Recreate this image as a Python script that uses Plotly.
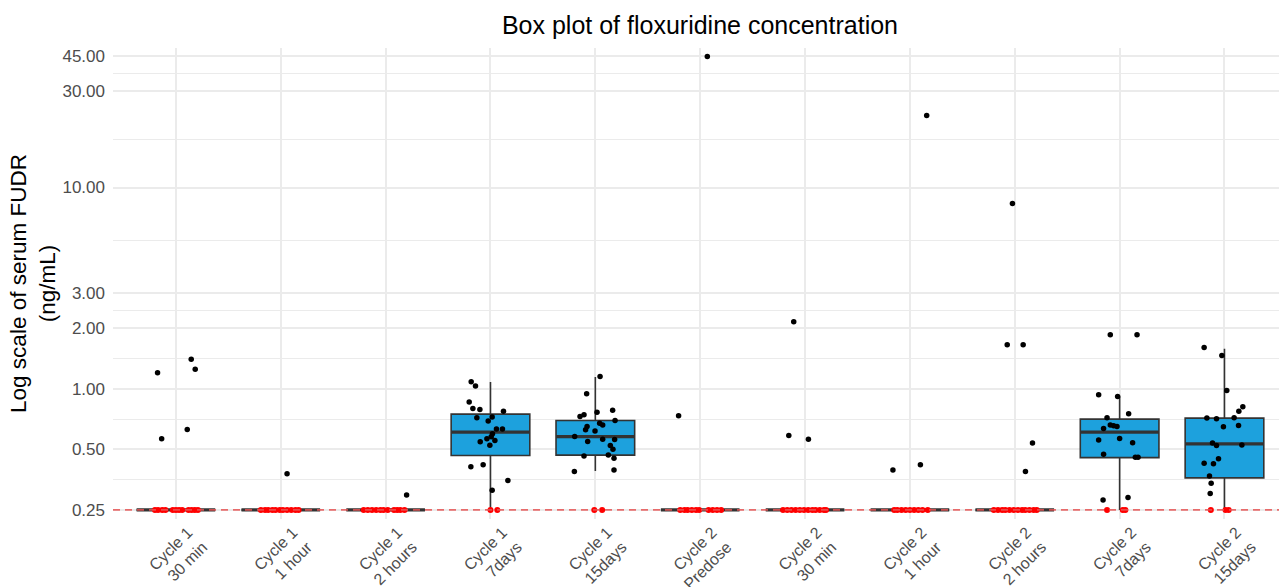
import math
import plotly.graph_objects as go

# ---------------- data ----------------
categories = ["Cycle 1<br>30 min", "Cycle 1<br>1 hour", "Cycle 1<br>2 hours",
              "Cycle 1<br>7days", "Cycle 1<br>15days", "Cycle 2<br>Predose",
              "Cycle 2<br>30 min", "Cycle 2<br>1 hour", "Cycle 2<br>2 hours",
              "Cycle 2<br>7days", "Cycle 2<br>15days"]

LLOQ = 0.25  # lower limit of quantification (ng/mL)

# box statistics (ng/mL)
box_q1     = [0.25, 0.25, 0.25, 0.466, 0.468, 0.25, 0.25, 0.25, 0.25, 0.455, 0.361]
box_median = [0.25, 0.25, 0.25, 0.609, 0.579, 0.25, 0.25, 0.25, 0.25, 0.609, 0.532]
box_q3     = [0.25, 0.25, 0.25, 0.748, 0.696, 0.25, 0.25, 0.25, 0.25, 0.707, 0.715]
box_lower  = [0.25, 0.25, 0.25, 0.25, 0.39, 0.25, 0.25, 0.25, 0.25, 0.25, 0.25]
box_upper  = [0.25, 0.25, 0.25, 1.08, 1.143, 0.25, 0.25, 0.25, 0.25, 0.916, 1.581]

c1_30min_values = [1.20, 1.40, 1.25, 0.564, 0.627]
c1_30min_jitter = [-0.175, 0.146, 0.184, -0.136, 0.108]
c1_1h_values = [0.378]
c1_1h_jitter = [0.06]
c1_2h_values = [0.297]
c1_2h_jitter = [0.20]
c1_7d_values = [1.083, 1.031, 0.859, 0.798, 0.789, 0.774, 0.717, 0.723, 0.691, 0.632,
                0.632, 0.597, 0.577, 0.564, 0.545, 0.553, 0.524, 0.41, 0.419, 0.35, 0.313]
c1_7d_jitter = [-0.184, -0.143, -0.203, -0.168, -0.101, 0.124, -0.13, 0.016, -0.022, 0.057,
                0.114, 0.019, 0.007, -0.034, -0.098, 0.042, -0.006, -0.187, -0.07, 0.166, 0.016]
c1_15d_values = [1.151, 0.944, 0.783, 0.765, 0.742, 0.728, 0.696, 0.675, 0.66, 0.649, 0.625,
                 0.616, 0.579, 0.562, 0.547, 0.559, 0.522, 0.501, 0.469, 0.464, 0.452, 0.388, 0.395]
c1_15d_jitter = [0.045, -0.083, 0.165, 0.016, -0.108, -0.146, 0.188, 0.041, 0.07, -0.079, -0.093,
                 -0.003, -0.197, 0.07, -0.073, 0.184, 0.143, 0.168, 0.124, -0.108, 0.178, -0.2, 0.178]
c2_pre_values = [44.8, 0.734]
c2_pre_jitter = [0.068, -0.206]
c2_30min_values = [2.15, 0.586, 0.562]
c2_30min_jitter = [-0.108, -0.155, 0.032]
c2_1h_values = [22.8, 0.395, 0.419]
c2_1h_jitter = [0.16, -0.162, 0.10]
c2_2h_values = [8.33, 1.655, 1.655, 0.537, 0.388]
c2_2h_jitter = [-0.022, -0.072, 0.08, 0.169, 0.102]
c2_7d_values = [1.857, 1.857, 0.934, 0.916, 0.751, 0.717, 0.635, 0.66, 0.655, 0.65,
                0.557, 0.566, 0.539, 0.473, 0.457, 0.457, 0.28, 0.288]
c2_7d_jitter = [-0.089, 0.166, -0.2, -0.019, 0.086, -0.12, -0.153, -0.089, -0.057, -0.025,
                -0.2, 0.0, 0.124, -0.153, 0.15, 0.176, -0.158, 0.08]
c2_15d_values = [1.605, 1.465, 0.981, 0.814, 0.774, 0.715, 0.709, 0.717, 0.647, 0.657,
                 0.537, 0.522, 0.526, 0.427, 0.424, 0.449, 0.369, 0.339, 0.302]
c2_15d_jitter = [-0.194, -0.025, 0.022, 0.175, 0.137, -0.168, -0.076, 0.092, -0.01, 0.134,
                 -0.114, -0.076, 0.166, -0.194, -0.105, -0.057, -0.143, -0.127, -0.136]

# samples below LLOQ (red points, plotted at LLOQ) - jitter only
c1_30min_blq = [-0.2, -0.17, -0.13, -0.1, -0.03, 0.0, 0.03, 0.06, 0.12, 0.15, 0.18, 0.21]
c1_1h_blq = [-0.19, -0.15, -0.12, -0.08, -0.05, -0.01, 0.02, 0.06, 0.1, 0.14, 0.17]
c1_2h_blq = [-0.21, -0.17, -0.13, -0.09, -0.05, -0.02, 0.02, 0.08, 0.11, 0.14, 0.18]
c1_7d_blq = [0.0, 0.065]
c1_15d_blq = [-0.01, 0.065]
c2_pre_blq = [-0.19, -0.15, -0.12, -0.08, -0.04, -0.01, 0.08, 0.12, 0.16, 0.2]
c2_30min_blq = [-0.21, -0.17, -0.13, -0.09, -0.05, -0.01, 0.03, 0.07, 0.1, 0.14, 0.18, 0.2]
c2_1h_blq = [-0.15, -0.12, -0.08, -0.04, 0.0, 0.04, 0.08, 0.12, 0.17]
c2_2h_blq = [-0.2, -0.16, -0.12, -0.09, -0.05, -0.01, 0.03, 0.07, 0.1, 0.14, 0.18, 0.21]
c2_7d_blq = [-0.12, 0.03, 0.055]
c2_15d_blq = [-0.13, 0.01, 0.04]

y_tick_values = [0.25, 0.5, 1, 2, 3, 10, 30, 45]
y_tick_labels = ["0.25", "0.50", "1.00", "2.00", "3.00", "10.00", "30.00", "45.00"]

# ---------------- assemble ----------------
values_by_cat = [c1_30min_values, c1_1h_values, c1_2h_values, c1_7d_values, c1_15d_values,
                 c2_pre_values, c2_30min_values, c2_1h_values, c2_2h_values, c2_7d_values,
                 c2_15d_values]
jitter_by_cat = [c1_30min_jitter, c1_1h_jitter, c1_2h_jitter, c1_7d_jitter, c1_15d_jitter,
                 c2_pre_jitter, c2_30min_jitter, c2_1h_jitter, c2_2h_jitter, c2_7d_jitter,
                 c2_15d_jitter]
blq_by_cat = [c1_30min_blq, c1_1h_blq, c1_2h_blq, c1_7d_blq, c1_15d_blq, c2_pre_blq,
              c2_30min_blq, c2_1h_blq, c2_2h_blq, c2_7d_blq, c2_15d_blq]

BOX_W = 0.75
BOX_FILL = "#1DA1DD"
DARK = "#333333"
positions = list(range(len(categories)))
x_min, x_max = -0.6, len(categories) - 1 + 0.52

fig = go.Figure()

fig.add_trace(go.Box(
    x=positions, q1=box_q1, median=box_median, q3=box_q3,
    lowerfence=box_lower, upperfence=box_upper,
    width=BOX_W, whiskerwidth=0, boxpoints=False,
    fillcolor=BOX_FILL, line=dict(color=DARK, width=1.6),
    hoverinfo="skip", showlegend=False))

# thick median bars (ggplot style)
mx, my = [], []
for i, m in zip(positions, box_median):
    mx += [i - BOX_W / 2, i + BOX_W / 2, None]
    my += [m, m, None]
fig.add_trace(go.Scatter(x=mx, y=my, mode="lines",
                         line=dict(color=DARK, width=3.2), hoverinfo="skip", showlegend=False))

# measured points
bx, by = [], []
for i, (vals, jit) in enumerate(zip(values_by_cat, jitter_by_cat)):
    bx += [i + j for j in jit]
    by += vals
fig.add_trace(go.Scatter(x=bx, y=by, mode="markers",
                         marker=dict(color="black", size=5.5, line=dict(width=0)),
                         showlegend=False))

# below-LLOQ points
rx, ry = [], []
for i, jit in enumerate(blq_by_cat):
    rx += [i + j for j in jit]
    ry += [LLOQ] * len(jit)
fig.add_trace(go.Scatter(x=rx, y=ry, mode="markers",
                         marker=dict(color="#FF0000", size=6, line=dict(width=0)),
                         showlegend=False))

# LLOQ dashed line
fig.add_trace(go.Scatter(x=[x_min, x_max], y=[LLOQ, LLOQ], mode="lines",
                         line=dict(color="rgba(230,85,85,0.85)", width=1.7, dash="7px,5px"),
                         hoverinfo="skip", showlegend=False))

minor_vals = [math.sqrt(a * b) for a, b in zip(y_tick_values[:-1], y_tick_values[1:])]

FONT = "Liberation Sans, Arial, sans-serif"
fig.update_layout(
    width=1279, height=587,
    margin=dict(l=113, r=0, t=48, b=68),
    paper_bgcolor="white", plot_bgcolor="white",
    font=dict(family=FONT, color="#4D4D4D"),
    title=dict(text="Box plot of floxuridine concentration",
               xref="paper", x=0.5034, xanchor="center",
               yref="container", y=1 - 25 / 587, yanchor="middle",
               font=dict(size=25, color="black", family=FONT)),
    showlegend=False,
)
fig.update_xaxes(
    range=[x_min, x_max], tickmode="array", tickvals=positions, ticktext=categories,
    tickangle=-45, tickfont=dict(size=16, color="#4D4D4D"), ticklabelshift=12,
    showgrid=True, gridcolor="#EBEBEB", gridwidth=1.5,
    zeroline=False, showline=False, ticks="", automargin=False,
)
fig.update_yaxes(
    type="log", range=[math.log10(LLOQ) - 0.045, math.log10(45) + 0.040],
    tickmode="array", tickvals=y_tick_values, ticktext=y_tick_labels,
    tickfont=dict(size=17, color="#4D4D4D"), ticklabelstandoff=7,
    showgrid=True, gridcolor="#EBEBEB", gridwidth=1.5,
    minor=dict(tickmode="array", tickvals=minor_vals, showgrid=True,
               gridcolor="#EBEBEB", gridwidth=1),
    zeroline=False, showline=False, ticks="", automargin=False,
    title=dict(text="Log scale of serum FUDR<br>(ng/mL)",
               font=dict(size=22.5, color="black", family=FONT), standoff=0),
)

fig.write_html("out.html")
